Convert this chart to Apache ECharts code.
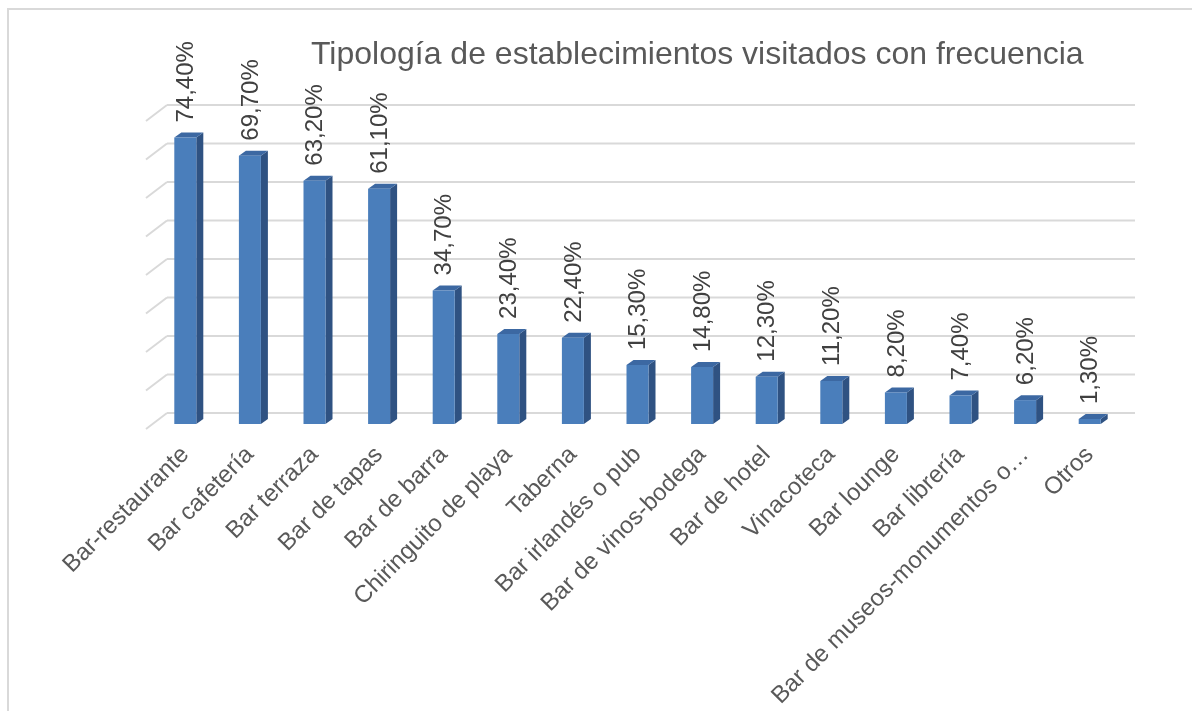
<!DOCTYPE html>
<html>
<head>
<meta charset="utf-8">
<script src="https://cdn.jsdelivr.net/npm/echarts@6/dist/echarts.min.js"></script>
<style>
  html, body { margin: 0; padding: 0; background: #fff; }
  #chart { width: 1192px; height: 711px; }
</style>
</head>
<body>
<div id="chart"></div>
<script>
const categories = [
  'Bar-restaurante', 'Bar cafetería', 'Bar terraza', 'Bar de tapas', 'Bar de barra',
  'Chiringuito de playa', 'Taberna', 'Bar irlandés o pub', 'Bar de vinos-bodega',
  'Bar de hotel', 'Vinacoteca', 'Bar lounge', 'Bar librería',
  'Bar de museos-monumentos o…', 'Otros'
]
const values = [74.4, 69.7, 63.2, 61.1, 34.7, 23.4, 22.4, 15.3, 14.8, 12.3, 11.2, 8.2, 7.4, 6.2, 1.3]
const yTicks = [0, 10, 20, 30, 40, 50, 60, 70, 80]

const FONT = "'Liberation Sans', Arial, sans-serif"
const fmt = v => v.toFixed(2).replace('.', ',') + '%'

// depth of the bars and of the back wall (Excel-like 3D look)
const BAR_DX = 7, BAR_DY = -5, HALF_W = 11

const chart = echarts.init(document.getElementById('chart'))

const renderWall = (params, api) => {
  const cs = params.coordSys
  const y = api.coord([0, api.value(0)])[1]
  const style = { stroke: '#d9d9d9', lineWidth: 2 }
  return {
    type: 'group',
    children: [
      { type: 'line', shape: { x1: cs.x - 7, y1: y + 5, x2: cs.x + 14, y2: y - 11 }, style },
      { type: 'line', shape: { x1: cs.x + 14, y1: y - 11, x2: cs.x + cs.width + 13, y2: y - 11 }, style }
    ]
  }
}

const renderBar = (params, api) => {
  const i = api.value(0)
  const v = api.value(1)
  const top = api.coord([i, v])
  const base = api.coord([i, 0])
  const c = top[0]
  const l = c - HALF_W, r = c + HALF_W
  return {
    type: 'group',
    children: [
      {
        type: 'polygon',
        shape: { points: [[r, top[1]], [r + BAR_DX, top[1] + BAR_DY], [r + BAR_DX, base[1] + BAR_DY], [r, base[1]]] },
        style: { fill: '#2f5282' }
      },
      {
        type: 'polygon',
        shape: { points: [[l, top[1]], [l + BAR_DX, top[1] + BAR_DY], [r + BAR_DX, top[1] + BAR_DY], [r, top[1]]] },
        style: { fill: '#3c68a2' }
      },
      {
        type: 'rect',
        shape: { x: l, y: top[1], width: r - l, height: base[1] - top[1] },
        style: { fill: '#4a7ebb' }
      },
      {
        type: 'text',
        x: c + 1,
        y: top[1] - 15,
        rotation: Math.PI / 2,
        style: {
          text: fmt(v),
          fill: '#404040',
          font: '24px ' + FONT,
          align: 'left',
          verticalAlign: 'middle'
        }
      }
    ]
  }
}

chart.setOption({
  backgroundColor: '#fff',
  animation: false,
  title: {
    text: 'Tipología de establecimientos visitados con frecuencia',
    left: 306,
    top: 34,
    textStyle: { fontSize: 32, fontWeight: 'normal', color: '#595959', fontFamily: FONT }
  },
  graphic: [{
    type: 'rect',
    shape: { x: 8, y: 9, width: 1300, height: 800 },
    style: { fill: 'none', stroke: '#d9d9d9', lineWidth: 2 },
    silent: true
  }],
  grid: { left: 153, right: 70, top: 116, bottom: 287 },
  xAxis: {
    type: 'category',
    data: categories,
    axisLine: { show: false },
    axisTick: { show: false },
    axisLabel: {
      interval: 0,
      rotate: 45,
      margin: 27,
      fontSize: 24,
      color: '#595959',
      fontFamily: FONT
    }
  },
  yAxis: {
    type: 'value',
    min: 0,
    max: 80,
    interval: 10,
    axisLabel: { show: false },
    axisLine: { show: false },
    axisTick: { show: false },
    splitLine: { show: false }
  },
  series: [
    {
      type: 'custom',
      name: 'wall',
      data: yTicks.map(t => [t]),
      encode: { y: 0 },
      renderItem: renderWall,
      silent: true,
      z: 1
    },
    {
      type: 'custom',
      name: 'Tipología',
      data: values.map((v, i) => [i, v]),
      encode: { x: 0, y: 1 },
      renderItem: renderBar,
      z: 2
    }
  ]
})
</script>
</body>
</html>
